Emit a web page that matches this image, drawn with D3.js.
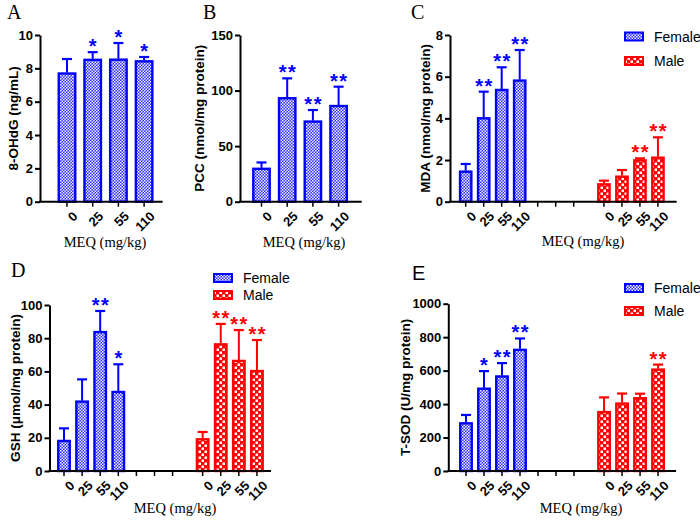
<!DOCTYPE html>
<html><head><meta charset="utf-8">
<script src="https://cdn.jsdelivr.net/npm/d3@7"></script>
<style>body{margin:0;background:#fff}svg{display:block}</style>
</head><body>
<svg id="chart" width="700" height="521"></svg>
<script>
// ---------- DATA ----------
const doses = ["0", "25", "55", "110"];
const groups = ["Female", "Male"];

// A: 8-OHdG (ng/mL)
const ohdgMean = [7.75, 8.57, 8.58, 8.48];
const ohdgSD   = [0.81, 0.40, 0.94, 0.20];
const ohdgSig  = ["", "*", "*", "*"];
const ohdgTicks = [0, 2, 4, 6, 8, 10];

// B: PCC (nmol/mg protein)
const pccMean = [30.5, 94, 73, 87];
const pccSD   = [4.8, 17, 9.5, 16.5];
const pccSig  = ["", "**", "**", "**"];
const pccTicks = [0, 50, 100, 150];

// C: MDA (nmol/mg protein)
const mdaFemale   = [1.49, 4.05, 5.41, 5.86];
const mdaFemaleSD = [0.32, 1.23, 1.04, 1.42];
const mdaFemaleSig = ["", "**", "**", "**"];
const mdaMale     = [0.88, 1.25, 2.03, 2.16];
const mdaMaleSD   = [0.13, 0.27, 0.05, 0.93];
const mdaMaleSig  = ["", "", "**", "**"];
const mdaTicks = [0, 2, 4, 6, 8];

// D: GSH (umol/mg protein)
const gshFemale   = [18.7, 42.4, 84.3, 48.2];
const gshFemaleSD = [7.0, 12.8, 12.1, 16.1];
const gshFemaleSig = ["", "", "**", "*"];
const gshMale     = [19.7, 76.9, 66.9, 60.8];
const gshMaleSD   = [3.8, 11.7, 18.0, 18.1];
const gshMaleSig  = ["", "**", "**", "**"];
const gshTicks = [0, 20, 40, 60, 80, 100];

// E: T-SOD (U/mg protein)
const sodFemale   = [291, 498, 571, 730];
const sodFemaleSD = [44, 99, 74, 62];
const sodFemaleSig = ["", "*", "**", "**"];
const sodMale     = [358, 409, 441, 612];
const sodMaleSD   = [82, 54, 21, 24];
const sodMaleSig  = ["", "", "", "**"];
const sodTicks = [0, 200, 400, 600, 800, 1000];

// ---------- RENDER ----------
const svg = d3.select("#chart");
const BLUE = "#0000ff", RED = "#ff0000";
const defs = svg.append("defs");
// fine blue checker
const pf = defs.append("pattern").attr("id", "patF").attr("patternUnits", "userSpaceOnUse")
  .attr("width", 3).attr("height", 3);
pf.append("rect").attr("width", 3).attr("height", 3).attr("fill", "#3030ff");
pf.append("rect").attr("x", 0).attr("y", 0).attr("width", 1.5).attr("height", 1.5).attr("fill", "#eeeeff");
pf.append("rect").attr("x", 1.5).attr("y", 1.5).attr("width", 1.5).attr("height", 1.5).attr("fill", "#eeeeff");
// coarse red checker
const pm = defs.append("pattern").attr("id", "patM").attr("patternUnits", "userSpaceOnUse")
  .attr("width", 6).attr("height", 6);
pm.append("rect").attr("width", 6).attr("height", 6).attr("fill", RED);
pm.append("rect").attr("x", 0.5).attr("y", 0.5).attr("width", 2.5).attr("height", 2.5).attr("fill", "#fff");
pm.append("rect").attr("x", 3.5).attr("y", 3.5).attr("width", 2.5).attr("height", 2.5).attr("fill", "#fff");

const style = {
  Female: {fill: "url(#patF)", stroke: BLUE},
  Male: {fill: "url(#patM)", stroke: RED}
};
const SANS = "Arial, 'Liberation Sans', sans-serif";
const SERIF = "'Liberation Serif', 'Times New Roman', serif";

function panel(o) {
  const g = svg.append("g");
  const y = d3.scaleLinear().domain([0, d3.max(o.ticks)]).range([o.y0, o.y1]);
  const x = d3.scaleLinear().domain([0, 1]).range([o.c0, o.c0 + o.step]);
  const slots = [];
  o.series.forEach(s => {
    s.mean.forEach((m, i) => {
      slots.push({pos: s.offset + i, label: doses[i], mean: m, sd: s.sd[i], sig: s.sig[i], grp: s.grp});
    });
  });
  const tickPos = slots.map(d => d.pos).concat(o.blank || []);
  slots.forEach(d => {
    const cx = x(d.pos);
    const st = style[d.grp];
    const top = y(d.mean), ey = y(d.mean + d.sd);
    g.append("line").attr("x1", cx).attr("x2", cx).attr("y1", top).attr("y2", ey)
      .attr("stroke", st.stroke).attr("stroke-width", 2);
    g.append("line").attr("x1", cx - 5).attr("x2", cx + 5).attr("y1", ey).attr("y2", ey)
      .attr("stroke", st.stroke).attr("stroke-width", 2.2);
    g.append("rect").attr("x", cx - o.bw / 2 + 1).attr("y", top + 1)
      .attr("width", o.bw - 2).attr("height", y(0) - top - 1)
      .attr("fill", st.fill).attr("stroke", st.stroke).attr("stroke-width", 2.4);
    if (d.sig) {
      const dbl = d.sig.length > 1;
      g.append("text").attr("x", cx + (dbl ? 0.75 : 0)).attr("y", ey + 1)
        .attr("text-anchor", "middle").attr("fill", st.stroke)
        .attr("font-family", SANS).attr("font-weight", "bold")
        .attr("font-size", 20).attr("letter-spacing", dbl ? 1.5 : 0)
        .text(d.sig);
    }
  });
  // y axis
  const ya = g.append("g").attr("transform", `translate(${o.ax},0)`)
    .call(d3.axisLeft(y).tickValues(o.ticks).tickFormat(d3.format("d"))
      .tickSize(5).tickPadding(2).tickSizeOuter(0));
  ya.select(".domain").attr("stroke", "#000").attr("stroke-width", 2);
  ya.selectAll(".tick line").attr("stroke", "#000").attr("stroke-width", 2);
  ya.selectAll(".tick text").attr("font-family", SANS)
    .attr("font-weight", "bold").attr("font-size", 13).attr("fill", "#000");
  // x axis line + ticks
  g.append("line").attr("x1", o.ax - 1).attr("x2", x(o.xEnd)).attr("y1", o.y0).attr("y2", o.y0)
    .attr("stroke", "#000").attr("stroke-width", 2);
  tickPos.forEach(p => {
    g.append("line").attr("x1", x(p)).attr("x2", x(p)).attr("y1", o.y0).attr("y2", o.y0 + 5)
      .attr("stroke", "#000").attr("stroke-width", 1.5);
  });
  slots.forEach(d => {
    g.append("text").attr("transform", `translate(${x(d.pos) + 5},${o.y0 + 9}) rotate(-45)`)
      .attr("text-anchor", "end").attr("dy", "0.7em")
      .attr("font-family", SANS).attr("font-weight", "bold")
      .attr("font-size", 13).text(d.label);
  });
  // axis titles
  g.append("text").attr("x", o.xtX).attr("y", o.xtY).attr("text-anchor", "middle")
    .attr("font-family", SERIF).attr("font-size", 14.5)
    .text("MEQ (mg/kg)");
  g.append("text").attr("transform", `translate(${o.ytX},${(o.y0 + o.y1) / 2}) rotate(-90)`)
    .attr("text-anchor", "middle").attr("dy", "0.35em")
    .attr("font-family", SANS).attr("font-weight", "bold")
    .attr("font-size", 13.5).text(o.ytitle);
  // panel letter
  g.append("text").attr("x", o.lx).attr("y", o.ly)
    .attr("font-family", o.serifLetter ? SERIF : SANS)
    .attr("font-size", 20).text(o.letter);
  // legend
  if (o.legend) {
    groups.forEach((grp, i) => {
      const ly = o.legend.y + i * o.legend.dy;
      g.append("rect").attr("x", o.legend.x).attr("y", ly - 4).attr("width", 18).attr("height", 8)
        .attr("fill", style[grp].fill).attr("stroke", style[grp].stroke).attr("stroke-width", 2);
      g.append("text").attr("x", o.legend.x + 29).attr("y", ly).attr("dy", "0.36em")
        .attr("font-family", SANS).attr("font-size", 14)
        .text(grp);
    });
  }
}

panel({letter: "A", serifLetter: true, lx: 7, ly: 19, ax: 40, y0: 201.7, y1: 35, ticks: ohdgTicks,
  c0: 67, step: 25.7, bw: 18.5, xEnd: 3.72, ytitle: "8-OHdG (ng/mL)", ytX: 13, xtX: 105, xtY: 247,
  series: [{grp: "Female", mean: ohdgMean, sd: ohdgSD, sig: ohdgSig, offset: 0}]});

panel({letter: "B", serifLetter: true, lx: 203, ly: 19, ax: 240, y0: 201.7, y1: 35, ticks: pccTicks,
  c0: 261.5, step: 25.7, bw: 18.4, xEnd: 3.9, ytitle: "PCC (nmol/mg protein)", ytX: 199, xtX: 304, xtY: 247,
  series: [{grp: "Female", mean: pccMean, sd: pccSD, sig: pccSig, offset: 0}]});

panel({letter: "C", serifLetter: true, lx: 411, ly: 19, ax: 450, y0: 201.7, y1: 35, ticks: mdaTicks,
  c0: 465.7, step: 18, bw: 13.3, xEnd: 11.72, blank: [4, 5, 6], ytitle: "MDA (nmol/mg protein)", ytX: 425, xtX: 583, xtY: 246,
  legend: {x: 625, y: 36.5, dy: 24.5},
  series: [{grp: "Female", mean: mdaFemale, sd: mdaFemaleSD, sig: mdaFemaleSig, offset: 0},
           {grp: "Male", mean: mdaMale, sd: mdaMaleSD, sig: mdaMaleSig, offset: 7.68}]});

panel({letter: "D", serifLetter: true, lx: 11, ly: 277, ax: 49.5, y0: 471, y1: 305, ticks: gshTicks,
  c0: 64, step: 18.1, bw: 13.5, xEnd: 11.44, blank: [4, 5, 6], ytitle: "GSH (μmol/mg protein)", ytX: 15, xtX: 175, xtY: 513,
  legend: {x: 214, y: 278, dy: 17},
  series: [{grp: "Female", mean: gshFemale, sd: gshFemaleSD, sig: gshFemaleSig, offset: 0},
           {grp: "Male", mean: gshMale, sd: gshMaleSD, sig: gshMaleSig, offset: 7.66}]});

panel({letter: "E", serifLetter: false, lx: 412, ly: 280, ax: 448.3, y0: 471, y1: 303.7, ticks: sodTicks,
  c0: 466, step: 18, bw: 13.5, xEnd: 11.67, blank: [4, 5, 6], ytitle: "T-SOD (U/mg protein)", ytX: 405, xtX: 581, xtY: 513,
  legend: {x: 625, y: 288, dy: 23},
  series: [{grp: "Female", mean: sodFemale, sd: sodFemaleSD, sig: sodFemaleSig, offset: 0},
           {grp: "Male", mean: sodMale, sd: sodMaleSD, sig: sodMaleSig, offset: 7.67}]});
</script>
</body></html>
